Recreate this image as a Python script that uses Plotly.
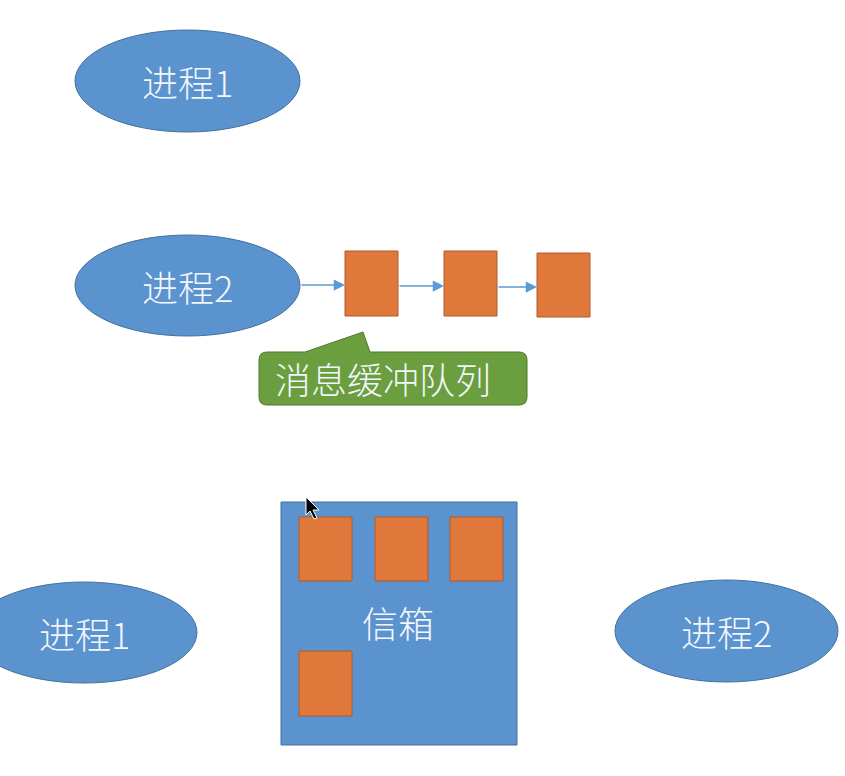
import plotly.graph_objects as go

# ---------------- diagram data (pixel space, y downwards) ----------------
W, H = 845, 776

ellipse_labels = ["进程1", "进程2", "进程1", "进程2"]
ellipse_x0 = [75, 75, -29, 615]
ellipse_x1 = [300, 300, 197, 838]
ellipse_y0 = [30, 235, 582, 580]
ellipse_y1 = [132, 336, 683, 682]

queue_x0 = [345, 444, 537]
queue_x1 = [398, 497, 590]
queue_y0 = [251, 251, 253]
queue_y1 = [316, 316, 317]

arrow_from_x = [300, 398, 497]
arrow_to_x = [345, 444, 537]
arrow_y = [285, 286, 287]

callout_label = "消息缓冲队列"
callout_box = [259, 352, 527, 405]          # x0, y0, x1, y1
callout_tail = [(305, 352), (363, 332), (370, 352)]
callout_label_pos = (383, 378)

mailbox_label = "信箱"
mailbox_box = [281, 502, 517, 745]
mailbox_label_pos = (398, 622)
msg_x0 = [299, 375, 450, 299]
msg_x1 = [352, 428, 503, 352]
msg_y0 = [517, 517, 517, 651]
msg_y1 = [581, 581, 581, 716]

BLUE = "#5b93cf"
BLUE_EDGE = "#41719c"
ORANGE = "#e0783c"
ORANGE_EDGE = "#ae5a2b"
GREEN = "#6b9e3f"
GREEN_EDGE = "#507a2e"
TEXT = "#f3f6fb"
FONT = "Noto Sans CJK SC"


def rounded_rect_with_tail(box, tail, r=8):
    x0, y0, x1, y1 = box
    (tx0, ty0), (tx, ty), (tx1, ty1) = tail
    return (
        f"M {x0 + r},{y0} L {tx0},{ty0} L {tx},{ty} L {tx1},{ty1} "
        f"L {x1 - r},{y0} Q {x1},{y0} {x1},{y0 + r} "
        f"L {x1},{y1 - r} Q {x1},{y1} {x1 - r},{y1} "
        f"L {x0 + r},{y1} Q {x0},{y1} {x0},{y1 - r} "
        f"L {x0},{y0 + r} Q {x0},{y0} {x0 + r},{y0} Z"
    )


fig = go.Figure()
shapes = []
annotations = []

# process ellipses
for lab, a, b, c, d in zip(ellipse_labels, ellipse_x0, ellipse_x1, ellipse_y0, ellipse_y1):
    shapes.append(dict(type="circle", xref="x", yref="y", x0=a, x1=b, y0=c, y1=d,
                       fillcolor=BLUE, line=dict(color=BLUE_EDGE, width=1)))
    annotations.append(dict(x=(a + b) / 2, y=(c + d) / 2, text=lab, showarrow=False,
                            font=dict(family=FONT, size=36, color=TEXT, weight=300)))

# message queue
for a, b, c, d in zip(queue_x0, queue_x1, queue_y0, queue_y1):
    shapes.append(dict(type="rect", xref="x", yref="y", x0=a, x1=b, y0=c, y1=d,
                       fillcolor=ORANGE, line=dict(color=ORANGE_EDGE, width=1)))

for fx, tx, yy in zip(arrow_from_x, arrow_to_x, arrow_y):
    annotations.append(dict(x=tx, y=yy, ax=fx, ay=yy, xref="x", yref="y",
                            axref="x", ayref="y", text="", showarrow=True,
                            arrowhead=2, arrowsize=1.5, arrowwidth=1.5,
                            arrowcolor="#5b9bd5"))

# callout
shapes.append(dict(type="path", xref="x", yref="y",
                   path=rounded_rect_with_tail(callout_box, callout_tail),
                   fillcolor=GREEN, line=dict(color=GREEN_EDGE, width=1)))
annotations.append(dict(x=callout_label_pos[0], y=callout_label_pos[1],
                        text=callout_label, showarrow=False,
                        font=dict(family=FONT, size=36, color=TEXT, weight=300)))

# mailbox
shapes.append(dict(type="rect", xref="x", yref="y",
                   x0=mailbox_box[0], y0=mailbox_box[1], x1=mailbox_box[2], y1=mailbox_box[3],
                   fillcolor=BLUE, line=dict(color=BLUE_EDGE, width=1)))
for a, b, c, d in zip(msg_x0, msg_x1, msg_y0, msg_y1):
    shapes.append(dict(type="rect", xref="x", yref="y", x0=a, x1=b, y0=c, y1=d,
                       fillcolor=ORANGE, line=dict(color=ORANGE_EDGE, width=1)))
annotations.append(dict(x=mailbox_label_pos[0], y=mailbox_label_pos[1], text=mailbox_label,
                        showarrow=False, font=dict(family=FONT, size=36, color=TEXT, weight=300)))

# mouse pointer left in the screenshot
shapes.append(dict(type="path", xref="x", yref="y",
                   path="M 306,497 L 306,515 L 310,511 L 314,519 L 317,518 L 313,510 L 319,510 Z",
                   fillcolor="black", line=dict(color="white", width=1)))

fig.update_layout(
    width=W, height=H,
    margin=dict(l=0, r=0, t=0, b=0),
    paper_bgcolor="white", plot_bgcolor="white",
    shapes=shapes, annotations=annotations,
    showlegend=False,
    xaxis=dict(range=[0, W], visible=False, fixedrange=True),
    yaxis=dict(range=[H, 0], visible=False, fixedrange=True),
)

# drop the page's default body margin so the figure sits at the window corner
fig.write_html("out.html", config={"displayModeBar": False},
               post_script="document.body.style.margin='0';")
